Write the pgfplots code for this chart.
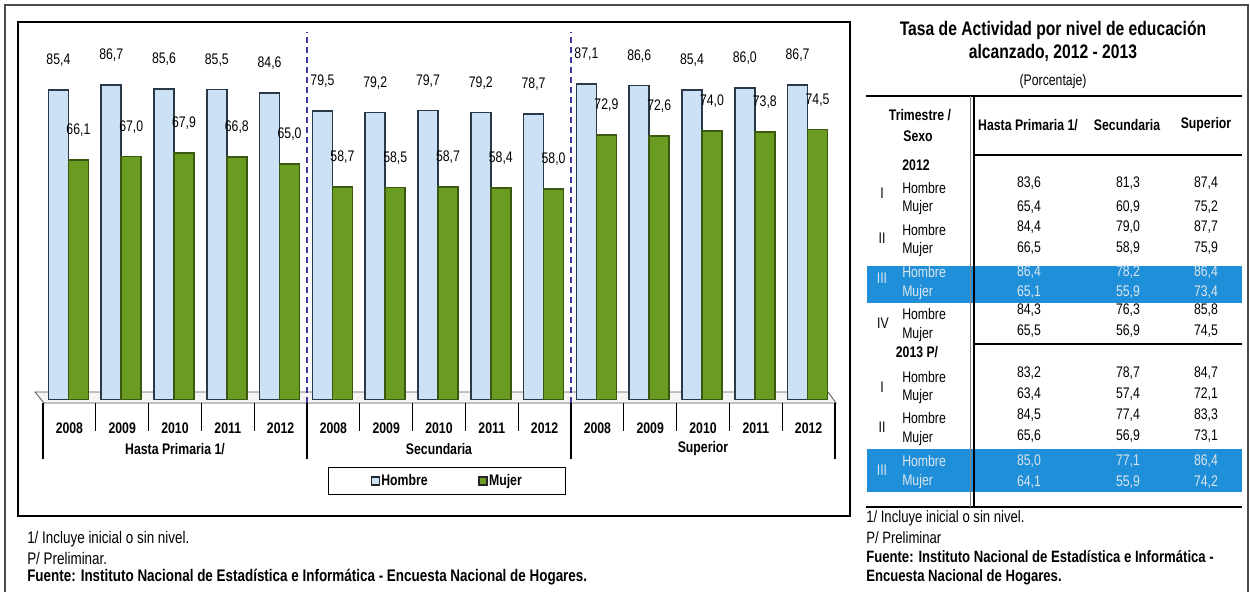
\documentclass[border=0pt]{standalone}
\usepackage{fontspec}
\setmainfont{Liberation Sans}[FakeStretch=0.8]
\usepackage{pgfplots}
\pgfplotsset{compat=1.18}
\definecolor{hblue}{HTML}{CCE1F6}
\definecolor{hedge}{HTML}{2A3848}
\definecolor{mgreen}{HTML}{6A9C22}
\definecolor{medge}{HTML}{3A5810}
\definecolor{band}{HTML}{1E8FD8}
\definecolor{bandtxt}{HTML}{DCE6EE}
\definecolor{sepblue}{HTML}{3A3AA8}
\newcommand{\fs}{\fontsize{11.5}{13}\selectfont}
\newcommand{\fl}{\fontsize{12.6}{14}\selectfont}
\newcommand{\fr}{\fontsize{12.3}{14}\selectfont}
\newcommand{\trow}[4]{\node at (1029,#1) {#2}; \node at (1128,#1) {#3}; \node at (1206,#1) {#4};}
\begin{document}
\begin{tikzpicture}
\begin{scope}[x=0.75pt,y=-0.75pt]
\path[use as bounding box] (0,0) rectangle (1250,592);
\draw[line width=1.5pt, black!70] (5,592) -- (5,5) -- (1248,5) -- (1248,592);
\draw[line width=0.8pt] (18,22) rectangle (850,516);
\draw[gray!70!black, fill=gray!8, line width=0.6pt] (35,392) -- (828,392) -- (836,403) -- (44,403) -- cycle;
\end{scope}

\begin{axis}[at={(32.25pt,-302.25pt)}, anchor=south west, scale only axis,
  width=594pt, height=274.5pt,
  xmin=-0.5, xmax=14.5, ymin=-1, ymax=100, clip=false,
  axis line style={draw=none}, tick style={draw=none}, ytick=\empty,
  xtick={0,...,14},
  xticklabels={2008,2009,2010,2011,2012,2008,2009,2010,2011,2012,2008,2009,2010,2011,2012},
  xticklabel style={font=\fs\bfseries, anchor=base, yshift=-18.75pt},
  ybar, bar width=15pt,
  nodes near coords,
  nodes near coords style={font=\fs, anchor=base, inner sep=0pt, yshift=19pt},
  legend style={at={(0.51,-0.213)}, anchor=center, legend columns=2, draw=black, line width=0.6pt,
    font=\fs\bfseries, inner xsep=32pt, inner ysep=4pt, nodes={inner sep=1pt},
    /tikz/every even column/.append style={column sep=37pt}},
  legend image code/.code={\draw[#1,/tikz/.cd,line width=1pt,draw=black!85] (0pt,-3pt) rectangle (6pt,3pt);},
  /pgf/number format/use comma,
  /pgf/number format/fixed,
  /pgf/number format/fixed zerofill,
  /pgf/number format/precision=1,
  /pgf/number format/assume math mode=true,
]
\addplot[bar shift=-8.25pt, fill=hblue, draw=hedge, line width=1.3pt] coordinates {
(0,85.4) (1,86.7) (2,85.6) (3,85.5) (4,84.6)
(5,79.5) (6,79.2) (7,79.7) (8,79.2) (9,78.7)
(10,87.1) (11,86.6) (12,85.4) (13,86.0) (14,86.7)};
\addlegendentry{Hombre}
\addplot[bar shift=6.75pt, fill=mgreen, draw=medge, line width=1.3pt] coordinates {
(0,66.1) (1,67.0) (2,67.9) (3,66.8) (4,65.0)
(5,58.7) (6,58.5) (7,58.7) (8,58.4) (9,58.0)
(10,72.9) (11,72.6) (12,74.0) (13,73.8) (14,74.5)};
\addlegendentry{Mujer}
\draw[sepblue, line width=0.9pt, dash pattern=on 4.5pt off 3pt] (axis cs:4.5,-1) -- (axis cs:4.5,101.5);
\draw[sepblue, line width=0.9pt, dash pattern=on 4.5pt off 3pt] (axis cs:9.5,-1) -- (axis cs:9.5,101.5);
\end{axis}

\begin{scope}[x=0.75pt,y=-0.75pt, every node/.style={inner sep=0pt, font=\fs}]
% separators below the axis
\foreach \k in {1,2,3,4,6,7,8,9,11,12,13,14} {\draw[line width=0.8pt] ({43+52.8*\k},403) -- ({43+52.8*\k},431);}
\foreach \k in {0,5,10,15} {\draw[line width=0.8pt] ({43+52.8*\k},403) -- ({43+52.8*\k},459);}
\node[font=\fs\bfseries] at (175,449) {Hasta Primaria 1/};
\node[font=\fs\bfseries] at (439,449) {Secundaria};
\node[font=\fs\bfseries] at (703,449) {Superior};
% left footnotes
\node[anchor=west, font=\fl] at (27,539) {1/ Incluye inicial o sin nivel.};
\node[anchor=west, font=\fl] at (27,558) {P/ Preliminar.};
\node[anchor=west, font=\fl\bfseries] at (27,577) {Fuente: Instituto Nacional de Estadística e Informática - Encuesta Nacional de Hogares.};

% right panel
\node[font=\fontsize{14.7}{16}\selectfont\bfseries] at (1053,30) {Tasa de Actividad por nivel de educación};
\node[font=\fontsize{14.7}{16}\selectfont\bfseries] at (1053,53) {alcanzado, 2012 - 2013};
\node[font=\fontsize{11.5}{13}\selectfont] at (1053,82) {(Porcentaje)};
% bands
\fill[band] (867,266) rectangle (1242,303);
\fill[band] (867,449) rectangle (1242,492);
% lines
\draw[line width=2pt] (866,96) -- (1242,96);
\draw[line width=2pt] (866,507) -- (1242,507);
\draw[gray, line width=0.6pt] (970,96) -- (970,507);
\draw[line width=2.2pt] (974,96) -- (974,507);
\draw[line width=2pt] (975,155) -- (1242,155);
\draw[line width=2pt] (975,344) -- (1242,344);
% header
\node[font=\fs\bfseries] at (920,115) {Trimestre /};
\node[font=\fs\bfseries] at (918,136) {Sexo};
\node[font=\fs\bfseries] at (1028,125) {Hasta Primaria 1/};
\node[font=\fs\bfseries] at (1127,125) {Secundaria};
\node[font=\fs\bfseries] at (1206,125) {Superior};
% 2012
\node[font=\fs\bfseries] at (916,165) {2012};
\node at (882,193) {I};
\node[anchor=west] at (902,188) {Hombre}; \trow{183}{83,6}{81,3}{87,4}
\node[anchor=west] at (902,208) {Mujer}; \trow{207}{65,4}{60,9}{75,2}
\node at (882,238) {II};
\node[anchor=west] at (902,230) {Hombre}; \trow{227}{84,4}{79,0}{87,7}
\node[anchor=west] at (902,250) {Mujer}; \trow{248}{66,5}{58,9}{75,9}
\begin{scope}[every node/.append style={text=bandtxt}]
\node at (882,278) {III};
\node[anchor=west] at (902,272) {Hombre}; \trow{272}{86,4}{78,2}{86,4}
\node[anchor=west] at (902,293) {Mujer}; \trow{292}{65,1}{55,9}{73,4}
\end{scope}
\node at (883,323) {IV};
\node[anchor=west] at (902,314) {Hombre}; \trow{310}{84,3}{76,3}{85,8}
\node[anchor=west] at (902,335) {Mujer}; \trow{331}{65,5}{56,9}{74,5}
% 2013
\node[font=\fs\bfseries] at (917,352) {2013 P/};
\node at (882,387) {I};
\node[anchor=west] at (902,377) {Hombre}; \trow{373}{83,2}{78,7}{84,7}
\node[anchor=west] at (902,397) {Mujer}; \trow{394}{63,4}{57,4}{72,1}
\node at (882,427) {II};
\node[anchor=west] at (902,418) {Hombre}; \trow{415}{84,5}{77,4}{83,3}
\node[anchor=west] at (902,439) {Mujer}; \trow{436}{65,6}{56,9}{73,1}
\begin{scope}[every node/.append style={text=bandtxt}]
\node at (882,470) {III};
\node[anchor=west] at (902,461) {Hombre}; \trow{461}{85,0}{77,1}{86,4}
\node[anchor=west] at (902,482) {Mujer}; \trow{482}{64,1}{55,9}{74,2}
\end{scope}
% right footnotes
\node[anchor=west, font=\fr] at (866,518) {1/ Incluye inicial o sin nivel.};
\node[anchor=west, font=\fr] at (866,538) {P/ Preliminar};
\node[anchor=west, font=\fr\bfseries] at (866,557) {Fuente: Instituto Nacional de Estadística e Informática -};
\node[anchor=west, font=\fr\bfseries] at (866,577) {Encuesta Nacional de Hogares.};
\end{scope}
\end{tikzpicture}
\end{document}
